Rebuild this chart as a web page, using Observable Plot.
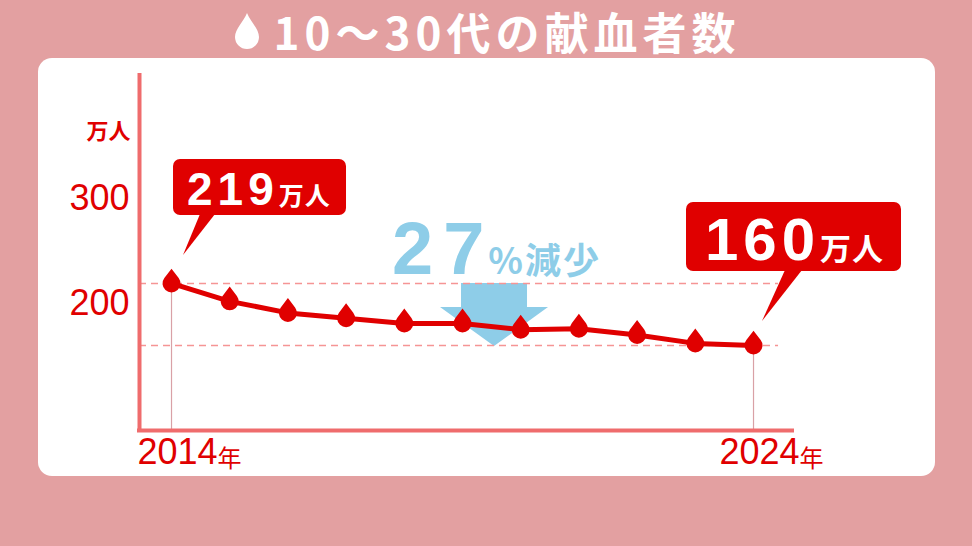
<!DOCTYPE html>
<html>
<head>
<meta charset="utf-8">
<script src="https://cdn.jsdelivr.net/npm/d3@7"></script>
<script src="https://cdn.jsdelivr.net/npm/@observablehq/plot@0.6"></script>
<style>
html,body{margin:0;padding:0;}
body{width:972px;height:546px;background:#E3A0A1;position:relative;overflow:hidden;font-family:"Liberation Sans","Noto Sans CJK JP",sans-serif;}
#title{position:absolute;left:0;top:2px;width:972px;height:58px;display:flex;align-items:center;justify-content:center;color:#fff;font-family:"Noto Sans CJK JP",sans-serif;font-weight:700;font-size:44px;letter-spacing:5px;white-space:nowrap;}
#title svg{margin-right:12px;}
#panel{position:absolute;left:38px;top:58px;width:897px;height:418px;background:#fff;border-radius:14px;}
#chart{position:absolute;left:0;top:58px;}
</style>
</head>
<body>
<div id="title"><svg width="30" height="36" viewBox="0 0 30 36"><path d="M15,0 C18,8 27,16 27,24 A12,12 0 0 1 3,24 C3,16 12,8 15,0 Z" fill="#fff"/></svg><span id="titleText"></span></div>
<div id="panel"></div>
<div id="chart"></div>
<script>
// ---- data ----
const titleText = "10〜30代の献血者数";
const years = [2014, 2015, 2016, 2017, 2018, 2019, 2020, 2021, 2022, 2023, 2024];
const donors = [219, 202, 191, 186, 181, 181, 175, 176, 170, 162, 160];
const yTicks = [200, 300];
const unitLabel = "万人";
const yearSuffix = "年";
const decreaseSuffix = "%減少";

// ---- styles ----
const RED = "#E00000";
const AXIS = "#EF6C6D";
const BLUE = "#8ECDE8";
const FONT = "'Liberation Sans','Noto Sans CJK JP',sans-serif";
const CJK = "'Noto Sans CJK JP',sans-serif";

document.getElementById("titleText").textContent = titleText;

const data = years.map((year, i) => ({year, value: donors[i]}));
const first = data[0], last = data[data.length - 1];
const ends = [first, last];
const pct = Math.round((first.value - last.value) / first.value * 100);

const xDomain = [2013.45, 2024.67];
const yDomain = [79.1, 418.8];

const dropSymbol = {
  draw(ctx, size) {
    const r = Math.sqrt(size / Math.PI);
    const d = 1.65 * r;
    const a = Math.acos(r / d);
    const tx = r * Math.sin(a), ty = -r * Math.cos(a);
    const th = Math.atan2(ty, tx);
    ctx.moveTo(0, -d);
    ctx.lineTo(tx, ty);
    ctx.arc(0, 0, r, th, Math.PI - th);
    ctx.closePath();
  }
};

function calloutMark(point, L) {
  return (index, scales) => {
    const px = scales.x(point.year), py = scales.y(point.value);
    const g = d3.create("svg:g");
    g.append("rect")
      .attr("x", px + L.box[0]).attr("y", py + L.box[1])
      .attr("width", L.box[2]).attr("height", L.box[3])
      .attr("rx", 7).attr("fill", RED);
    const p = L.ptr;
    g.append("path")
      .attr("d", `M${px + p[0]},${py + p[1]}L${px + p[2]},${py + p[1]}L${px + p[3]},${py + p[4]}Z`)
      .attr("fill", RED);
    const t = g.append("text")
      .attr("x", px + L.text[0]).attr("y", py + L.text[1])
      .attr("text-anchor", "start")
      .attr("fill", "#fff").attr("font-weight", 700).attr("font-family", FONT);
    t.append("tspan").attr("font-size", L.num).attr("letter-spacing", L.ls).text(String(point.value));
    t.append("tspan").attr("font-size", L.unit).attr("dx", 0).attr("letter-spacing", 1)
      .attr("font-family", CJK).text(unitLabel);
    return g.node();
  };
}

function arrowMark(xVal, topVal, botVal) {
  return (index, scales) => {
    const cx = scales.x(xVal);
    const top = scales.y(topVal), tip = scales.y(botVal) + 1;
    const wingY = top + 24;
    const g = d3.create("svg:g");
    g.append("path")
      .attr("d", `M${cx - 33},${top}L${cx + 33},${top}L${cx + 33},${wingY}L${cx + 54},${wingY}L${cx},${tip}L${cx - 54},${wingY}L${cx - 33},${wingY}Z`)
      .attr("fill", BLUE);
    const t = g.append("text")
      .attr("x", cx - 102).attr("y", top - 9)
      .attr("text-anchor", "start")
      .attr("fill", BLUE).attr("font-weight", 700).attr("font-family", FONT);
    t.append("tspan").attr("font-size", 74).attr("letter-spacing", 10).text(String(pct));
    t.append("tspan").attr("font-size", 36).attr("dx", -6).attr("letter-spacing", 2)
      .attr("font-family", CJK).text(decreaseSuffix);
    return g.node();
  };
}

const chart = Plot.plot({
  width: 972,
  height: 488,
  marginLeft: 139,
  marginRight: 180,
  marginTop: 15,
  marginBottom: 116,
  style: {background: "transparent", fontFamily: FONT, overflow: "visible"},
  x: {domain: xDomain, axis: null},
  y: {domain: yDomain, axis: null},
  marks: [
    arrowMark(2019.55, first.value, last.value),
    Plot.ruleY([first.value, last.value], {x1: xDomain[0], x2: last.year + 0.43, stroke: "#F59595", strokeWidth: 1.3, strokeDasharray: "7,5"}),
    Plot.ruleX(ends, {x: "year", y1: "value", y2: yDomain[0], stroke: "#D9A1A6", strokeWidth: 1.2}),
    Plot.ruleX([xDomain[0]], {stroke: AXIS, strokeWidth: 4}),
    Plot.ruleY([yDomain[0]], {stroke: AXIS, strokeWidth: 4, strokeLinecap: "square"}),
    Plot.line(data, {x: "year", y: "value", stroke: RED, strokeWidth: 5}),
    Plot.dot(data, {x: "year", y: "value", symbol: dropSymbol, r: 9, fill: RED, stroke: "none"}),
    Plot.axisY(yTicks, {anchor: "left", label: null, tickSize: 0, tickPadding: 10, fontSize: 36, color: RED, tickFormat: d => String(d)}),
    Plot.text([unitLabel], {text: d => d, frameAnchor: "top-left", dx: -9, dy: 50, textAnchor: "end", fontSize: 22, fontWeight: 700, fill: RED, fontFamily: CJK}),
    Plot.text(ends, {x: "year", text: d => String(d.year), frameAnchor: "bottom", dy: 33, dx: 46, textAnchor: "end", fontSize: 36, fill: RED}),
    Plot.text(ends, {x: "year", text: () => yearSuffix, frameAnchor: "bottom", dy: 36, dx: 46, textAnchor: "start", fontSize: 24, fill: RED, fontFamily: CJK}),
    calloutMark(first, {box: [2, -124, 173, 56], ptr: [29, -69, 44, 12, -28], text: [16, -78], num: 46, unit: 25, ls: 5}),
    calloutMark(last, {box: [-67, -143, 215, 69], ptr: [32, -75, 49, 9, -24], text: [-48, -85], num: 60, unit: 31, ls: 5})
  ]
});
document.getElementById("chart").appendChild(chart);
</script>
</body>
</html>
